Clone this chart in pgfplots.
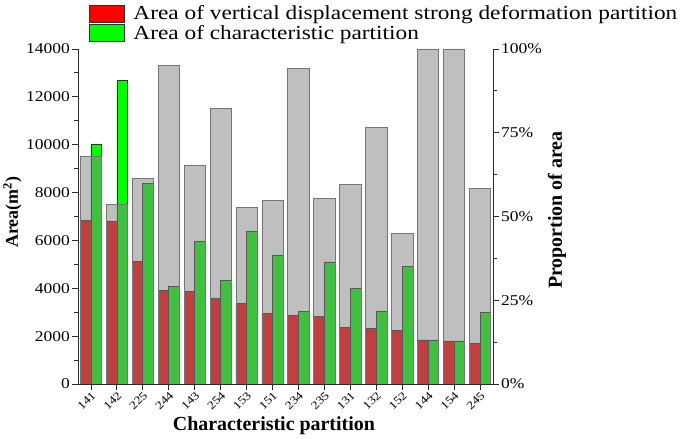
\documentclass[border=0pt]{standalone}
\usepackage{fontspec}
\setmainfont{Liberation Serif}
\newfontfamily\widefont[FakeStretch=1.17]{Liberation Serif}
\usepackage{pgfplots}
\usepackage{pgfplotstable}
\pgfplotsset{compat=1.18}

\pgfplotstableread{
idx name red green prop
0 141 6825 10030 68.1
1 142 6783 12692 53.6
2 225 5140 8387 61.4
3 244 3916 4083 95.1
4 143 3874 5947 65.4
5 254 3581 4346 82.3
6 153 3356 6365 52.7
7 151 2938 5391 54.8
8 234 2854 3038 94.2
9 235 2812 5099 55.4
10 131 2353 3999 59.6
11 132 2311 3038 76.5
12 152 2228 4931 44.9
13 144 1839 1839 100
14 154 1797 1797 100
15 245 1713 2980 58.4
}\datatable

\definecolor{axcol}{HTML}{2A2A2A}
\definecolor{graybar}{HTML}{808080}
\definecolor{grayedge}{HTML}{767676}
\definecolor{edgecol}{HTML}{303030}

\begin{document}
\begin{tikzpicture}
\path[use as bounding box] (0,0) rectangle (685bp,439bp);
\begin{axis}[
  at={(78bp,55bp)}, anchor=south west,
  width=415bp, height=335bp, scale only axis,
  xmin=-0.5, xmax=15.5, ymin=0, ymax=14000,
  axis y line*=left, axis x line*=bottom,
  axis line style={axcol, line width=0.9pt},
  every tick/.style={axcol, line width=0.9pt},
  tick align=outside,
  major tick length=6bp, minor tick length=3.5bp,
  ytick={0,2000,...,14000}, minor y tick num=1,
  scaled y ticks=false,
  yticklabel style={font=\widefont\fontsize{15}{15}\selectfont, inner sep=2bp,
    /pgf/number format/fixed, /pgf/number format/1000 sep={}, /pgf/number format/assume math mode=true},
  xtick=data,
  xticklabels from table={\datatable}{name},
  xticklabel style={font=\widefont\fontsize{11.5}{11.5}\selectfont, rotate=45, anchor=north east, inner sep=0.5bp},
  xlabel={Characteristic partition},
  xlabel style={font=\fontsize{20}{20}\selectfont\bfseries, at={(rel axis cs:0.472,-0.124)}, anchor=center},
  ylabel={Area(m\textsuperscript{2})},
  ylabel style={font=\fontsize{18}{18}\selectfont\bfseries, at={(rel axis cs:-0.158,0.513)}, anchor=center},
  legend style={at={(rel axis cs:0.0265,1.134)}, anchor=north west, draw=none, fill=none,
    font=\widefont\fontsize{20}{20}\selectfont, inner sep=0pt, row sep=1bp, column sep=7bp,
    nodes={inner sep=1.5bp, anchor=west}},
  legend cell align=left,
  legend image code/.code={\draw[#1, line width=0.8pt] (0bp,-8.5bp) rectangle (35bp,8.5bp);},
]
\addplot[ybar, bar width=0.41, bar shift=-0.205, fill=red, draw=edgecol, line width=0.7pt]
  table[x=idx, y=red] {\datatable};
\addlegendentry{Area of vertical displacement strong deformation partition}
\addplot[ybar, bar width=0.41, bar shift=0.205, fill=green, draw=edgecol, line width=0.7pt]
  table[x=idx, y=green] {\datatable};
\addlegendentry{Area of characteristic partition}
\end{axis}
\begin{axis}[
  at={(78bp,55bp)}, anchor=south west,
  width=415bp, height=335bp, scale only axis,
  xmin=-0.5, xmax=15.5, ymin=0, ymax=100,
  axis y line*=right, axis x line=none,
  axis line style={axcol, line width=0.9pt},
  every tick/.style={axcol, line width=0.9pt},
  tick align=outside,
  major tick length=6bp, minor tick length=3.5bp,
  ytick={0,25,50,75,100}, minor y tick num=1,
  yticklabel={\pgfmathprintnumber{\tick}\%},
  yticklabel style={font=\widefont\fontsize{15}{15}\selectfont, inner sep=2bp, /pgf/number format/assume math mode=true},
  ylabel={Proportion of area},
  ylabel style={font=\fontsize{20}{20}\selectfont\bfseries, at={(rel axis cs:1.154,0.519)}, anchor=center, rotate=0},
]
\addplot[ybar, bar width=0.82, bar shift=0, fill=graybar, fill opacity=0.5, draw=grayedge, line width=0.7pt]
  table[x=idx, y=prop] {\datatable};
\end{axis}
\end{tikzpicture}
\end{document}
